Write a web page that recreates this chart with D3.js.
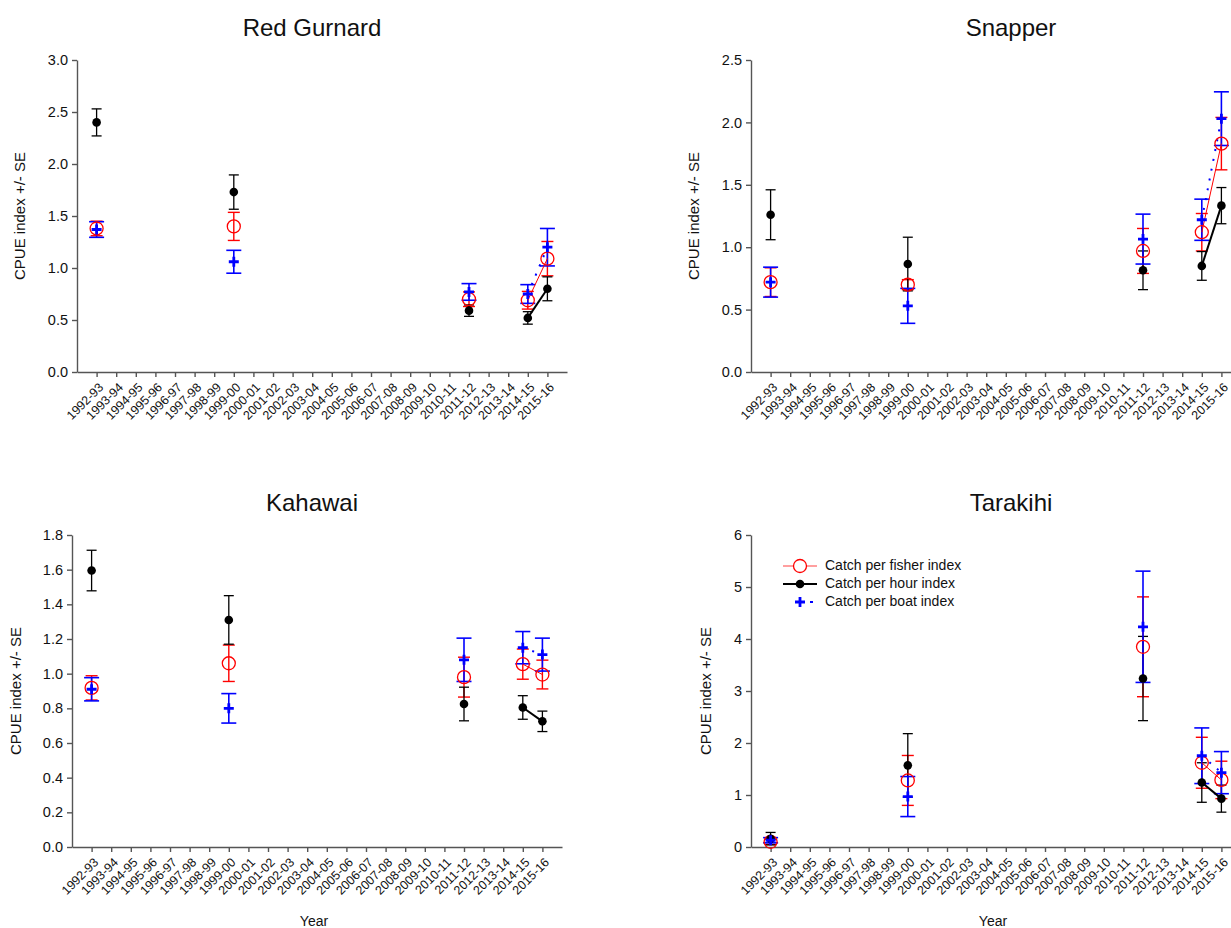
<!DOCTYPE html>
<html>
<head>
<meta charset="utf-8">
<script src="https://cdn.jsdelivr.net/npm/d3@7"></script>
<style>
  body { margin: 0; background: #fff; }
  text { font-family: "Liberation Sans", Arial, sans-serif; fill: #111; }
</style>
</head>
<body>
<div id="chart"></div>
<script>
// fishing years on the x axis
const years = ["1992-93", "1993-94", "1994-95", "1995-96", "1996-97", "1997-98", "1998-99",
  "1999-00", "2000-01", "2001-02", "2002-03", "2003-04", "2004-05", "2005-06", "2006-07",
  "2007-08", "2008-09", "2009-10", "2010-11", "2011-12", "2012-13", "2013-14", "2014-15", "2015-16"];
// years with a survey estimate
const surveyYears = ["1992-93", "1999-00", "2011-12", "2014-15", "2015-16"];

// Red Gurnard
const gurnardFisher = [1.38, 1.40, 0.70, 0.69, 1.09];
const gurnardFisherSE = [0.07, 0.135, 0.07, 0.085, 0.165];
const gurnardHour = [2.40, 1.73, 0.59, 0.52, 0.80];
const gurnardHourSE = [0.13, 0.165, 0.055, 0.06, 0.115];
const gurnardBoat = [1.37, 1.06, 0.77, 0.75, 1.20];
const gurnardBoatSE = [0.075, 0.11, 0.08, 0.09, 0.18];

// Snapper
const snapperFisher = [0.72, 0.70, 0.97, 1.12, 1.83];
const snapperFisherSE = [0.115, 0.04, 0.18, 0.15, 0.21];
const snapperHour = [1.26, 0.865, 0.815, 0.85, 1.333];
const snapperHourSE = [0.20, 0.215, 0.155, 0.115, 0.145];
const snapperBoat = [0.72, 0.53, 1.065, 1.22, 2.03];
const snapperBoatSE = [0.12, 0.14, 0.20, 0.165, 0.215];

// Kahawai
const kahawaiFisher = [0.918, 1.06, 0.98, 1.055, 0.995];
const kahawaiFisherSE = [0.07, 0.105, 0.115, 0.087, 0.083];
const kahawaiHour = [1.595, 1.31, 0.825, 0.805, 0.725];
const kahawaiHourSE = [0.117, 0.14, 0.097, 0.068, 0.059];
const kahawaiBoat = [0.91, 0.80, 1.08, 1.15, 1.11];
const kahawaiBoatSE = [0.067, 0.085, 0.125, 0.093, 0.095];

// Tarakihi
const tarakihiFisher = [0.10, 1.28, 3.85, 1.62, 1.29];
const tarakihiFisherSE = [0.05, 0.48, 0.96, 0.49, 0.36];
const tarakihiHour = [0.16, 1.57, 3.24, 1.24, 0.93];
const tarakihiHourSE = [0.12, 0.61, 0.81, 0.38, 0.26];
const tarakihiBoat = [0.13, 0.97, 4.235, 1.755, 1.43];
const tarakihiBoatSE = [0.05, 0.385, 1.07, 0.535, 0.405];

const legendLabels = ["Catch per fisher index", "Catch per hour index", "Catch per boat index"];

var svg = d3.select("#chart").append("svg")
  .attr("width", 1231)
  .attr("height", 928);

var panels = [
  { title: "Red Gurnard", x0: 77, x1: 567, top: 60, bottom: 372, max: 3, step: 0.5, fmt: ".1f",
    titleX: 312, labelX: 21, year: false, legend: false,
    fisher: [gurnardFisher, gurnardFisherSE], hour: [gurnardHour, gurnardHourSE], boat: [gurnardBoat, gurnardBoatSE] },
  { title: "Snapper", x0: 751, x1: 1241, top: 60, bottom: 372, max: 2.5, step: 0.5, fmt: ".1f",
    titleX: 1011, labelX: 695, year: false, legend: false,
    fisher: [snapperFisher, snapperFisherSE], hour: [snapperHour, snapperHourSE], boat: [snapperBoat, snapperBoatSE] },
  { title: "Kahawai", x0: 72, x1: 562, top: 535, bottom: 847, max: 1.8, step: 0.2, fmt: ".1f",
    titleX: 312, labelX: 17, year: true, legend: false,
    fisher: [kahawaiFisher, kahawaiFisherSE], hour: [kahawaiHour, kahawaiHourSE], boat: [kahawaiBoat, kahawaiBoatSE] },
  { title: "Tarakihi", x0: 751, x1: 1241, top: 535, bottom: 847, max: 6, step: 1, fmt: "d",
    titleX: 1011, labelX: 707, year: true, legend: true,
    fisher: [tarakihiFisher, tarakihiFisherSE], hour: [tarakihiHour, tarakihiHourSE], boat: [tarakihiBoat, tarakihiBoatSE] }
];

var axisColor = "#555";

function toPoints(pair) {
  return surveyYears.map(function (yr, i) {
    return { yr: yr, v: pair[0][i], se: pair[1][i] };
  });
}

// split into runs of consecutive years, only those get joined by a line
function runs(points) {
  var out = [], cur = [];
  points.forEach(function (d, i) {
    if (i > 0 && years.indexOf(d.yr) - years.indexOf(points[i - 1].yr) !== 1) {
      out.push(cur);
      cur = [];
    }
    cur.push(d);
  });
  out.push(cur);
  return out.filter(function (r) { return r.length > 1; });
}

function plusPath(s) {
  return "M" + (-s) + ",0H" + s + "M0," + (-s) + "V" + s;
}

function drawPanel(p) {
  var g = svg.append("g");
  var x = d3.scalePoint().domain(years).range([p.x0, p.x1]).padding(1);
  var y = d3.scaleLinear().domain([0, p.max]).range([p.bottom, p.top]);

  var xAxis = g.append("g")
    .attr("transform", "translate(0," + p.bottom + ")")
    .call(d3.axisBottom(x).tickSize(5).tickSizeOuter(0));
  xAxis.selectAll("text")
    .attr("x", 0).attr("y", 0).attr("dy", "0.35em")
    .attr("transform", "translate(4,13) rotate(-45)")
    .style("text-anchor", "end")
    .style("font-size", "12.5px");

  var yAxis = g.append("g")
    .attr("transform", "translate(" + p.x0 + ",0)")
    .call(d3.axisLeft(y)
      .tickValues(d3.range(0, p.max + 1e-9, p.step))
      .tickFormat(d3.format(p.fmt))
      .tickSize(5).tickSizeOuter(0));
  yAxis.selectAll("text").style("font-size", "14.5px").attr("x", -9);

  g.selectAll(".domain, .tick line").attr("stroke", axisColor).attr("stroke-width", 1.4);
  g.selectAll(".tick text").attr("fill", "#111").style("font-family", "'Liberation Sans', Arial, sans-serif");

  g.append("text")
    .attr("x", p.titleX).attr("y", p.top - 24)
    .attr("text-anchor", "middle")
    .style("font-size", "24px")
    .text(p.title);

  g.append("text")
    .attr("transform", "translate(" + p.labelX + "," + (p.top + p.bottom) / 2 + ") rotate(-90)")
    .attr("text-anchor", "middle")
    .attr("dominant-baseline", "middle")
    .style("font-size", "15px")
    .text("CPUE index +/- SE");

  if (p.year) {
    g.append("text")
      .attr("x", (p.x0 + p.x1) / 2 - 3).attr("y", 926)
      .attr("text-anchor", "middle")
      .style("font-size", "14px")
      .text("Year");
  }

  var series = [
    { pts: toPoints(p.fisher), color: "#ff0000", cap: 6, lw: 1, dash: null, ew: 1.4 },
    { pts: toPoints(p.hour), color: "#000000", cap: 5, lw: 2, dash: null, ew: 1.3 },
    { pts: toPoints(p.boat), color: "#0000ff", cap: 7.5, lw: 2, dash: "2,8", ew: 1.6 }
  ];

  // error bars
  series.forEach(function (s) {
    var eb = g.append("g").attr("stroke", s.color).attr("stroke-width", s.ew);
    eb.selectAll("line.v").data(s.pts).enter().append("line")
      .attr("x1", function (d) { return x(d.yr); })
      .attr("x2", function (d) { return x(d.yr); })
      .attr("y1", function (d) { return y(d.v - d.se); })
      .attr("y2", function (d) { return y(d.v + d.se); });
    [-1, 1].forEach(function (sign) {
      eb.selectAll("line.c" + sign).data(s.pts).enter().append("line")
        .attr("x1", function (d) { return x(d.yr) - s.cap; })
        .attr("x2", function (d) { return x(d.yr) + s.cap; })
        .attr("y1", function (d) { return y(d.v + sign * d.se); })
        .attr("y2", function (d) { return y(d.v + sign * d.se); });
    });
  });

  // joining lines
  var line = d3.line()
    .x(function (d) { return x(d.yr); })
    .y(function (d) { return y(d.v); });
  series.forEach(function (s) {
    g.selectAll(null).data(runs(s.pts)).enter().append("path")
      .attr("d", line)
      .attr("fill", "none")
      .attr("stroke", s.color)
      .attr("stroke-width", s.lw)
      .attr("stroke-dasharray", s.dash);
  });

  // symbols
  g.selectAll(null).data(series[0].pts).enter().append("circle")
    .attr("cx", function (d) { return x(d.yr); })
    .attr("cy", function (d) { return y(d.v); })
    .attr("r", 6.5)
    .attr("fill", "none")
    .attr("stroke", "#ff0000")
    .attr("stroke-width", 1.3);
  g.selectAll(null).data(series[1].pts).enter().append("circle")
    .attr("cx", function (d) { return x(d.yr); })
    .attr("cy", function (d) { return y(d.v); })
    .attr("r", 4.3)
    .attr("fill", "#000");
  g.selectAll(null).data(series[2].pts).enter().append("path")
    .attr("transform", function (d) { return "translate(" + x(d.yr) + "," + y(d.v) + ")"; })
    .attr("d", plusPath(5))
    .attr("stroke", "#0000ff")
    .attr("stroke-width", 2.8);

  if (p.legend) {
    var lg = g.append("g").attr("transform", "translate(783,566)");
    var rowH = 18;
    legendLabels.forEach(function (lab, i) {
      var row = lg.append("g").attr("transform", "translate(0," + i * rowH + ")");
      if (i === 0) {
        row.append("line").attr("x1", 0).attr("x2", 34).attr("stroke", "#ff4040").attr("stroke-width", 1.2);
        row.append("circle").attr("cx", 17).attr("r", 6.5).attr("fill", "#fff").attr("stroke", "#ff0000").attr("stroke-width", 1.3);
      } else if (i === 1) {
        row.append("line").attr("x1", 0).attr("x2", 34).attr("stroke", "#000").attr("stroke-width", 2);
        row.append("circle").attr("cx", 17).attr("r", 4.3).attr("fill", "#000");
      } else {
        row.append("path").attr("transform", "translate(17,0)").attr("d", plusPath(5))
          .attr("stroke", "#0000ff").attr("stroke-width", 2.8);
        row.append("line").attr("x1", 27).attr("x2", 30).attr("stroke", "#0000ff").attr("stroke-width", 2);
      }
      row.append("text")
        .attr("x", 42).attr("y", 0)
        .attr("dominant-baseline", "middle")
        .style("font-size", "14px")
        .text(lab);
    });
  }
}

panels.forEach(drawPanel);
</script>
</body>
</html>
